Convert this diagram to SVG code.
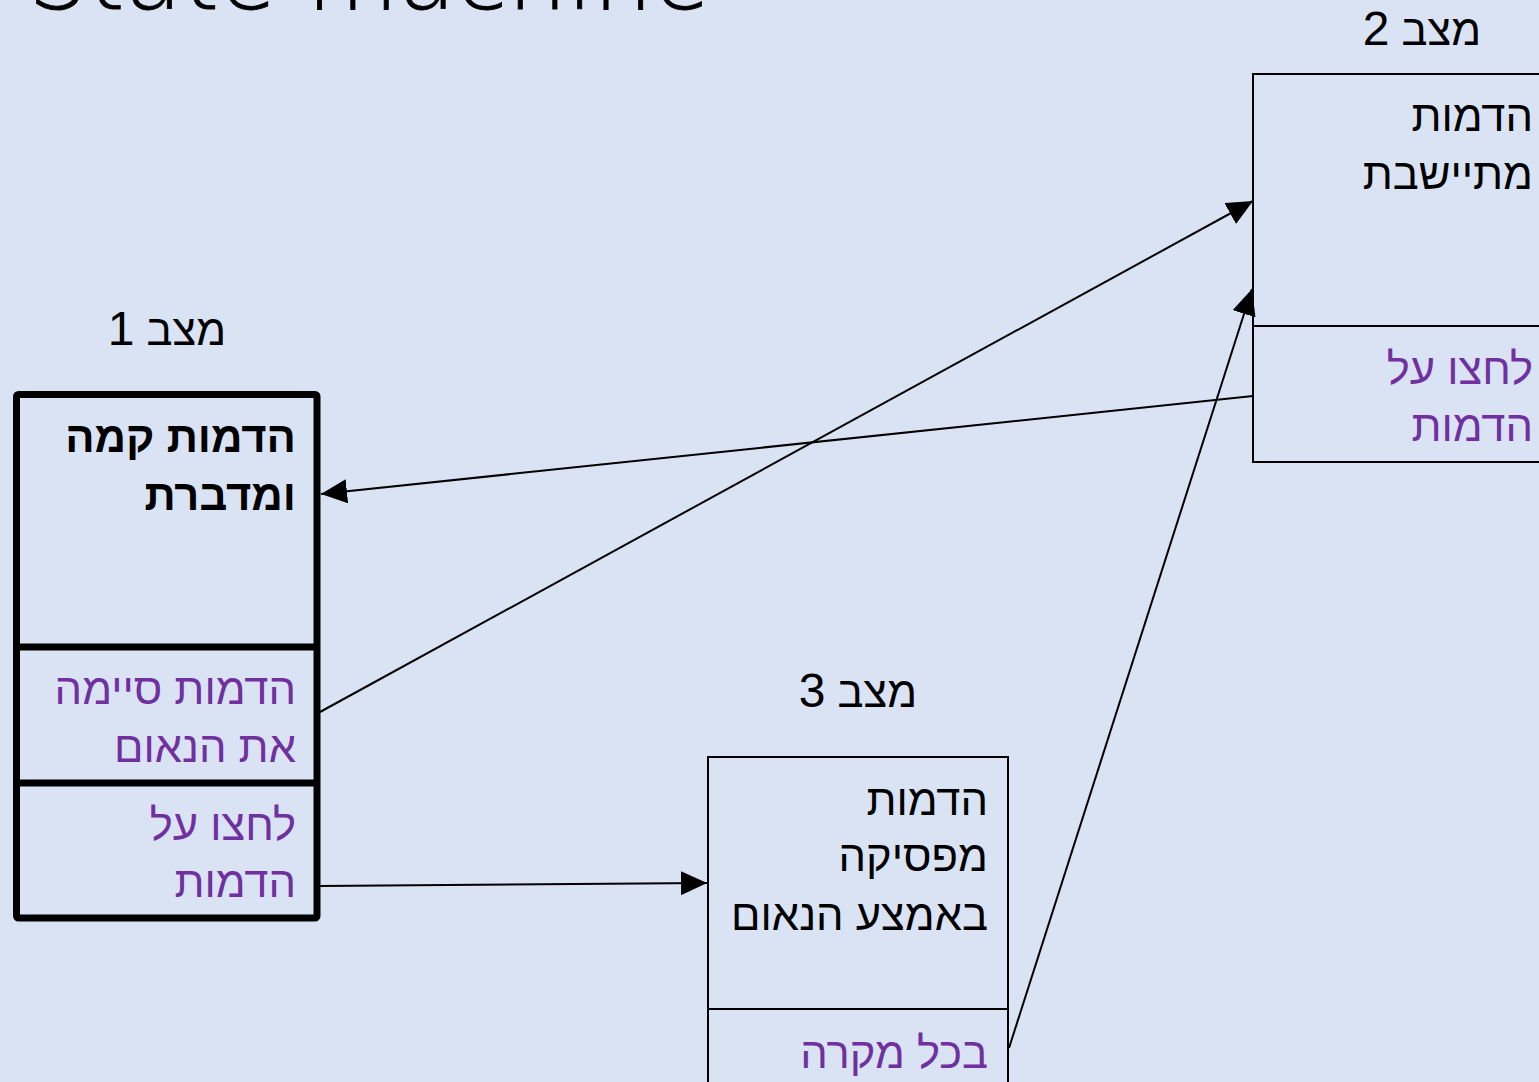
<svg xmlns="http://www.w3.org/2000/svg" width="1539" height="1082" viewBox="0 0 1539 1082">
<defs>
<marker id="arr" markerUnits="userSpaceOnUse" markerWidth="26" markerHeight="24" refX="26" refY="12" orient="auto" viewBox="0 0 26 24">
<path d="M0,0 L26,12 L0,24 z" fill="#000"/>
</marker>
<style>
.t{font-family:"Liberation Sans",Arial,sans-serif;font-size:43.5px;fill:#000}
.p{fill:#7030A0}
.b{font-weight:bold}
.lbl{font-family:"Liberation Sans",Arial,sans-serif;font-size:43.5px;fill:#000;text-anchor:middle}
.d{font-size:48px}
.box{fill:none;stroke:#000;stroke-width:2}
.thick{fill:none;stroke:#000;stroke-width:7}
.c{stroke:#000;stroke-width:2;fill:none;marker-end:url(#arr)}
</style>
</defs>
<rect width="1539" height="1082" fill="#DAE3F3"/>
<text x="28" y="9" font-family="DejaVu Sans, sans-serif" font-weight="200" font-size="94" fill="#000" stroke="#000" stroke-width="0.8">State machine</text>

<g id="state1">
<text class="lbl" x="167" y="345" direction="rtl">מצב <tspan class="d">1</tspan></text>
<rect class="thick" x="16.5" y="394.5" width="300.5" height="523.5" rx="2"/>
<line class="thick" x1="16.5" y1="647" x2="317" y2="647"/>
<line class="thick" x1="16.5" y1="783" x2="317" y2="783"/>
<text class="t b" x="296" y="452" text-anchor="end">הדמות קמה</text>
<text class="t b" x="296" y="510" text-anchor="end">ומדברת</text>
<text class="t p" x="296" y="704" text-anchor="end">הדמות סיימה</text>
<text class="t p" x="296" y="762" text-anchor="end">את הנאום</text>
<text class="t p" x="296" y="840" text-anchor="end">לחצו על</text>
<text class="t p" x="296" y="897" text-anchor="end">הדמות</text>
</g>

<g id="state2">
<text class="lbl" x="1422" y="45" direction="rtl">מצב <tspan class="d">2</tspan></text>
<rect class="box" x="1253" y="74" width="300" height="388"/>
<line class="box" x1="1253" y1="326" x2="1545" y2="326"/>
<text class="t" x="1533" y="131" text-anchor="end">הדמות</text>
<text class="t" x="1533" y="189" text-anchor="end">מתיישבת</text>
<text class="t p" x="1533" y="384" text-anchor="end">לחצו על</text>
<text class="t p" x="1533" y="441" text-anchor="end">הדמות</text>
</g>

<g id="state3">
<text class="lbl" x="858" y="707" direction="rtl">מצב <tspan class="d">3</tspan></text>
<rect class="box" x="708" y="757" width="300" height="340"/>
<line class="box" x1="708" y1="1009" x2="1008" y2="1009"/>
<text class="t" x="988" y="815" text-anchor="end">הדמות</text>
<text class="t" x="988" y="871" text-anchor="end">מפסיקה</text>
<text class="t" x="988" y="930" text-anchor="end">באמצע הנאום</text>
<text class="t p" x="988" y="1068" text-anchor="end">בכל מקרה</text>
</g>

<g id="connectors">
<line class="c" x1="320" y1="712" x2="1253" y2="201"/>
<line class="c" x1="1253" y1="396" x2="321" y2="494"/>
<line class="c" x1="320" y1="886" x2="707" y2="883"/>
<line class="c" x1="1009" y1="1048" x2="1252" y2="289"/>
</g>
</svg>
